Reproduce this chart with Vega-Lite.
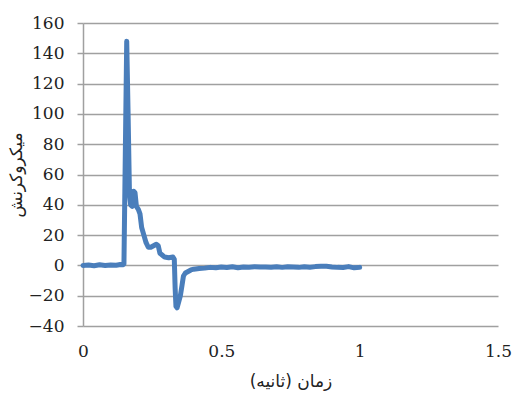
{
  "$schema": "https://vega.github.io/schema/vega-lite/v6.json",
  "autosize": "none",
  "width": 415,
  "height": 303,
  "padding": {"left": 83, "top": 23, "right": 14, "bottom": 76},
  "background": "white",
  "config": {"view": {"stroke": null}},
  "data": {"values": [
    {"t": 0.0, "v": 0.0}, {"t": 0.02, "v": 0.2}, {"t": 0.04, "v": -0.2}, {"t": 0.06, "v": 0.4},
    {"t": 0.08, "v": 0.0}, {"t": 0.1, "v": 0.3}, {"t": 0.12, "v": 0.1}, {"t": 0.135, "v": 0.6},
    {"t": 0.145, "v": 0.5}, {"t": 0.148, "v": 1.0}, {"t": 0.158, "v": 148},
    {"t": 0.163, "v": 100}, {"t": 0.168, "v": 47}, {"t": 0.172, "v": 40}, {"t": 0.178, "v": 39},
    {"t": 0.183, "v": 49}, {"t": 0.188, "v": 48}, {"t": 0.193, "v": 39}, {"t": 0.2, "v": 37},
    {"t": 0.206, "v": 34}, {"t": 0.212, "v": 25}, {"t": 0.22, "v": 20}, {"t": 0.228, "v": 15},
    {"t": 0.236, "v": 12}, {"t": 0.245, "v": 12}, {"t": 0.255, "v": 13}, {"t": 0.265, "v": 14},
    {"t": 0.272, "v": 13}, {"t": 0.278, "v": 8}, {"t": 0.285, "v": 7}, {"t": 0.295, "v": 5.5},
    {"t": 0.31, "v": 5}, {"t": 0.325, "v": 5.5}, {"t": 0.33, "v": 4}, {"t": 0.333, "v": -15},
    {"t": 0.336, "v": -27}, {"t": 0.34, "v": -28}, {"t": 0.346, "v": -24}, {"t": 0.352, "v": -20},
    {"t": 0.358, "v": -13}, {"t": 0.363, "v": -7}, {"t": 0.37, "v": -5}, {"t": 0.38, "v": -4},
    {"t": 0.39, "v": -3}, {"t": 0.4, "v": -2.5}, {"t": 0.42, "v": -2}, {"t": 0.44, "v": -1.8},
    {"t": 0.46, "v": -1.3}, {"t": 0.48, "v": -1.6}, {"t": 0.5, "v": -1.1}, {"t": 0.52, "v": -1.4},
    {"t": 0.54, "v": -0.9}, {"t": 0.56, "v": -1.5}, {"t": 0.58, "v": -1.0}, {"t": 0.6, "v": -1.2},
    {"t": 0.62, "v": -0.9}, {"t": 0.64, "v": -1.1}, {"t": 0.66, "v": -1.0}, {"t": 0.68, "v": -1.2},
    {"t": 0.7, "v": -0.9}, {"t": 0.72, "v": -1.3}, {"t": 0.74, "v": -0.9}, {"t": 0.76, "v": -1.1},
    {"t": 0.78, "v": -1.3}, {"t": 0.8, "v": -0.9}, {"t": 0.82, "v": -1.2}, {"t": 0.84, "v": -0.8},
    {"t": 0.86, "v": -0.5}, {"t": 0.88, "v": -0.6}, {"t": 0.9, "v": -1.0}, {"t": 0.92, "v": -1.3},
    {"t": 0.94, "v": -1.4}, {"t": 0.96, "v": -0.8}, {"t": 0.98, "v": -1.6}, {"t": 1.0, "v": -1.3}
  ]},
  "mark": {"type": "line", "color": "#4A7EBB", "strokeWidth": 5, "strokeCap": "round", "strokeJoin": "round"},
  "encoding": {
    "x": {
      "field": "t", "type": "quantitative",
      "scale": {"domain": [0, 1.5], "nice": false, "zero": false},
      "axis": {
        "values": [0, 0.5, 1, 1.5], "format": "~g", "grid": false, "ticks": false,
        "domain": false, "labelFont": "DejaVu Serif", "labelFontSize": 17,
        "labelColor": "#222", "labelPadding": 17, "labelFlush": false,
        "title": "زمان (ثانیه)", "titleFont": "DejaVu Sans", "titleFontSize": 17,
        "titleFontWeight": "normal", "titleColor": "#222", "titlePadding": 14
      }
    },
    "y": {
      "field": "v", "type": "quantitative",
      "scale": {"domain": [-40, 160], "nice": false, "zero": false},
      "axis": {
        "values": [-40, -20, 0, 20, 40, 60, 80, 100, 120, 140, 160],
        "grid": true, "gridColor": "#A0A0A0", "gridWidth": 1.5,
        "domain": true, "domainColor": "#A0A0A0", "domainWidth": 1.5,
        "ticks": true, "tickSize": 6, "tickColor": "#A0A0A0", "tickWidth": 1.5,
        "labelFont": "DejaVu Serif", "labelFontSize": 17, "labelColor": "#222",
        "labelPadding": 13,
        "title": "میکروکرنش", "titleFont": "DejaVu Sans", "titleFontSize": 17,
        "titleFontWeight": "normal", "titleColor": "#222", "titlePadding": 3
      }
    }
  }
}
